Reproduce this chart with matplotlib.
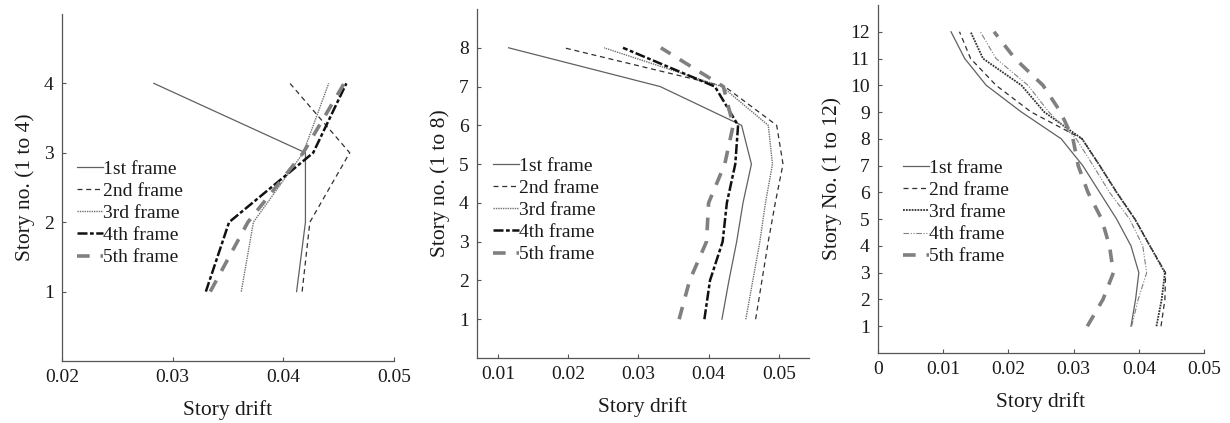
import matplotlib
matplotlib.use("Agg")
import matplotlib.pyplot as plt

plt.rcParams['font.family'] = ['Liberation Serif', 'DejaVu Serif']

labels = ["1st frame", "2nd frame", "3rd frame", "4th frame", "5th frame"]

# Panel 1: 4-story
stories4 = [1, 2, 3, 4]
p1_f1 = [0.0412, 0.0420, 0.0420, 0.0283]
p1_f2 = [0.0417, 0.0424, 0.0460, 0.0406]
p1_f3 = [0.0362, 0.0373, 0.0418, 0.0441]
p1_f4 = [0.0330, 0.0351, 0.0427, 0.0457]
p1_f5 = [0.0334, 0.0368, 0.0418, 0.0455]

# Panel 2: 8-story
stories8 = [1, 2, 3, 4, 5, 6, 7, 8]
p2_f1 = [0.0419, 0.0429, 0.0440, 0.0449, 0.0461, 0.0447, 0.0331, 0.0115]
p2_f2 = [0.0467, 0.0476, 0.0485, 0.0495, 0.0506, 0.0497, 0.0423, 0.0194]
p2_f3 = [0.0453, 0.0463, 0.0473, 0.0481, 0.0491, 0.0485, 0.0419, 0.0251]
p2_f4 = [0.0394, 0.0402, 0.0420, 0.0426, 0.0438, 0.0442, 0.0409, 0.0278]
p2_f5 = [0.0358, 0.0373, 0.0397, 0.0400, 0.0423, 0.0435, 0.0421, 0.0332]

# Panel 3: 12-story
stories12 = [1, 2, 3, 4, 5, 6, 7, 8, 9, 10, 11, 12]
p3_f1 = [0.0388, 0.0395, 0.0400, 0.0388, 0.0366, 0.0340, 0.0314, 0.0281, 0.0220, 0.0166, 0.0133, 0.0112]
p3_f2 = [0.0434, 0.0440, 0.0441, 0.0417, 0.0394, 0.0366, 0.0340, 0.0313, 0.0235, 0.0181, 0.0142, 0.0125]
p3_f3 = [0.0427, 0.0435, 0.0440, 0.0417, 0.0394, 0.0366, 0.0340, 0.0313, 0.0255, 0.0220, 0.0161, 0.0142]
p3_f4 = [0.0389, 0.0399, 0.0412, 0.0406, 0.0386, 0.0355, 0.0330, 0.0304, 0.0262, 0.0230, 0.0181, 0.0157]
p3_f5 = [0.0321, 0.0345, 0.0361, 0.0355, 0.0343, 0.0322, 0.0307, 0.0299, 0.0280, 0.0253, 0.0210, 0.0178]

fig = plt.figure(figsize=(12.3, 4.23), dpi=100)

styles_a = [
    dict(color="#606060", lw=0.9, ls="-"),
    dict(color="#303030", lw=0.9, ls=(0, (4, 3))),
    dict(color="#707070", lw=1.0, ls=(0, (1, 0.7))),
    dict(color="#111111", lw=1.8, ls=(0, (4, 1, 1.5, 1))),
    dict(color="#808080", lw=2.6, ls=(0, (3.5, 3))),
]
styles_b = [
    dict(color="#606060", lw=0.9, ls="-"),
    dict(color="#303030", lw=0.9, ls=(0, (4, 3))),
    dict(color="#333333", lw=1.3, ls=(0, (1, 0.6))),
    dict(color="#808080", lw=0.8, ls=(0, (5, 1.5, 1, 1.5, 1, 1.5))),
    dict(color="#808080", lw=2.6, ls=(0, (3.5, 3))),
]

panels = [
    dict(rect=[0.0504, 0.1466, 0.2699, 0.8204], ys=stories4,
         series=[p1_f1, p1_f2, p1_f3, p1_f4, p1_f5], xlim=(0.02, 0.05),
         xticks=[0.02, 0.03, 0.04, 0.05], xtl=["0.02", "0.03", "0.04", "0.05"],
         ylim=(0, 5), yticks=[1, 2, 3, 4], ylabel="Story no. (1 to 4)",
         styles=styles_a, leg=(0.045, 0.579)),
    dict(rect=[0.3878, 0.1537, 0.2699, 0.8250], ys=stories8,
         series=[p2_f1, p2_f2, p2_f3, p2_f4, p2_f5], xlim=(0.0070, 0.0543),
         xticks=[0.01, 0.02, 0.03, 0.04, 0.05], xtl=["0.01", "0.02", "0.03", "0.04", "0.05"],
         ylim=(0, 9), yticks=list(range(1, 9)), ylabel="Story no. (1 to 8)",
         styles=styles_a, leg=(0.048, 0.576)),
    dict(rect=[0.7138, 0.1655, 0.2651, 0.8227], ys=stories12,
         series=[p3_f1, p3_f2, p3_f3, p3_f4, p3_f5], xlim=(0.0, 0.05),
         xticks=[0, 0.01, 0.02, 0.03, 0.04, 0.05], xtl=["0", "0.01", "0.02", "0.03", "0.04", "0.05"],
         ylim=(0, 13), yticks=list(range(1, 13)), ylabel="Story No. (1 to 12)",
         styles=styles_b, leg=(0.077, 0.557)),
]

for p in panels:
    ax = fig.add_axes(p["rect"])
    for vals, st, lab in zip(p["series"], p["styles"], labels):
        ax.plot(vals, p["ys"], label=lab, **st)
    ax.set_xlim(*p["xlim"])
    ax.set_ylim(*p["ylim"])
    ax.set_xticks(p["xticks"])
    ax.set_xticklabels(p["xtl"])
    ax.set_yticks(p["yticks"])
    for s in ["top", "right"]:
        ax.spines[s].set_visible(False)
    for s in ["left", "bottom"]:
        ax.spines[s].set_color("#555555")
        ax.spines[s].set_linewidth(0.9)
    ax.tick_params(direction="in", length=3, width=0.8, color="#555555",
                   labelsize=14, labelcolor="#1a1a1a", pad=6)
    ax.set_xlabel("Story drift", fontsize=15.5, color="#1a1a1a", labelpad=10)
    ax.set_ylabel(p["ylabel"], fontsize=15.5, color="#1a1a1a", labelpad=6)
    leg = ax.legend(loc="upper left", bbox_to_anchor=p["leg"], frameon=False,
                    fontsize=14, handlelength=1.35, handletextpad=0.0,
                    labelspacing=0.235, borderaxespad=0, borderpad=0)
    for t in leg.get_texts():
        t.set_color("#1a1a1a")

fig.savefig("out.png", dpi=100)
